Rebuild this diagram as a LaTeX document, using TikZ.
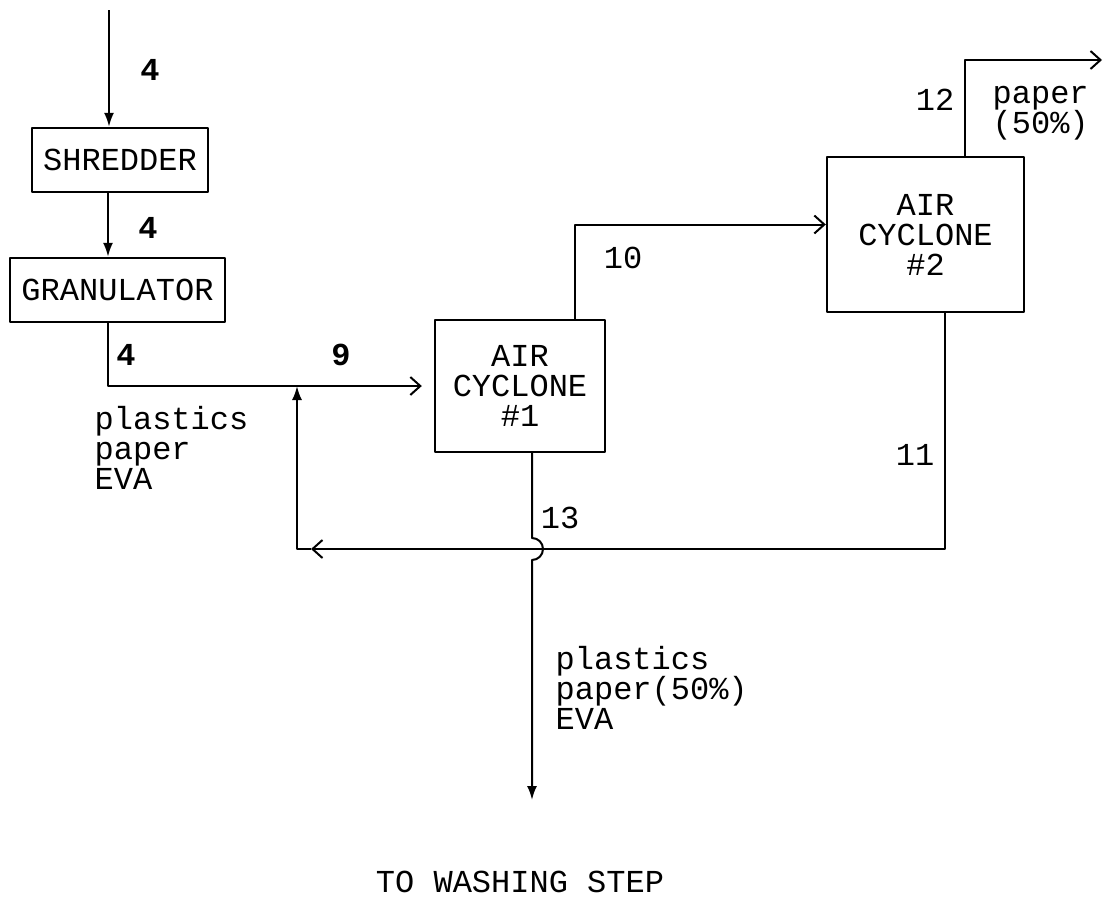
\documentclass[tikz,border=0pt]{standalone}
\usepackage{fontspec}
\setmainfont{Liberation Mono}
\usetikzlibrary{arrows.meta}

\begin{document}
\begin{tikzpicture}[x=0.5pt, y=-0.5pt, line width=1pt, line join=round,
    font=\fontsize{16}{15}\selectfont,
    box/.style={draw, line width=1.2pt, inner sep=0pt, align=center},
    num/.style={font=\fontsize{16}{15}\selectfont\bfseries},
    arr/.style={-{Latex[length=7pt,width=5pt]}},
    opentip/.style={-{Straight Barb[length=5pt,width=9pt]}}]
    \useasboundingbox (0,0) rectangle (1104,921);

    % Units
    \node[box, minimum width=88pt, minimum height=32pt] (shred) at (120,160) {SHREDDER};
    \node[box, minimum width=107.5pt, minimum height=32pt] (gran) at (117.5,290) {GRANULATOR};
    \node[box, minimum width=85pt, minimum height=66pt] (cyc1) at (520,386) {AIR\\CYCLONE\\\#1};
    \node[box, minimum width=98.5pt, minimum height=77.5pt] (cyc2) at (925.5,234.5) {AIR\\CYCLONE\\\#2};

    % Free ends and junctions
    \coordinate (in) at (109,10);
    \coordinate (m9) at (297,386);
    \coordinate (ret) at (297,549);
    \coordinate (out) at (532,800);
    \coordinate (out12) at (1102,60);

    % Streams
    \draw[arr] (in) -- (in |- shred.north);
    \draw[arr] ([xshift=-6pt]shred.south) -- ([xshift=-6pt]shred.south |- gran.north);
    \draw[opentip, shorten >=6pt] ([xshift=-4.75pt]gran.south) |- (cyc1.west);
    \draw[opentip] ([xshift=27.5pt]cyc1.north) |- ([yshift=5pt]cyc2.west);
    \draw[opentip] ([xshift=19.75pt]cyc2.north) |- (out12);
    \draw[opentip] ([xshift=9.75pt]cyc2.south) |- ([xshift=7pt]ret);
    \draw[arr] ([xshift=7pt]ret) -- (ret) -- (m9);
    % Stream 13 hops over the recycle line
    \draw[arr] (cyc1.south -| out) -- (out |- 0,538) arc[start angle=90, end angle=-90, radius=5.5pt] -- (out);

    % Stream numbers
    \node[num] (n4a) at (150,70) {4};
    \node[num] (n4b) at (148,228) {4};
    \node[num] (n4c) at (126,355) {4};
    \node[num] (n9) at (341,355) {9};
    \node (n10) at (623,258) {10};
    \node (n11) at (915,455) {11};
    \node (n12) at (935,100) {12};
    \node (n13) at (560,518) {13};

    % Compositions
    \node[align=left, anchor=west] (feed) at (87,448) {plastics\\paper\\EVA};
    \node[align=left, anchor=west] (prod) at (548,688) {plastics\\paper(50\%)\\EVA};
    \node[align=left, anchor=west] (waste) at (985,113) {paper\\(50\%)};
    \node (wash) at (520,882) {TO WASHING STEP};
\end{tikzpicture}
\end{document}
